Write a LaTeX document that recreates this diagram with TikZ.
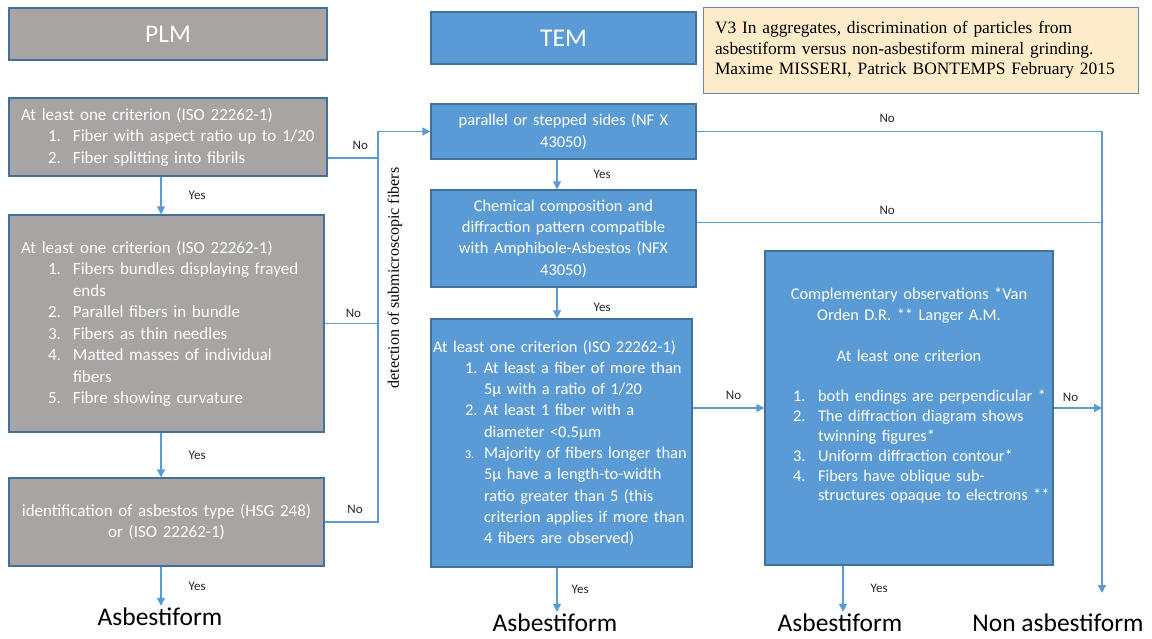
\documentclass[tikz,border=0pt]{standalone}
\usepackage{fontspec}
\setmainfont{Carlito}
\newfontfamily\notefont{Liberation Serif}
\usetikzlibrary{calc,arrows.meta}

\definecolor{plmgray}{RGB}{168,164,163}
\definecolor{temblue}{RGB}{91,155,213}
\definecolor{boxedge}{RGB}{65,113,156}
\definecolor{linkblue}{RGB}{91,155,213}
\definecolor{notefill}{RGB}{253,236,201}
\definecolor{noteedge}{RGB}{105,135,170}

\newlength\itemind
\newlength\labelgap
\newcommand{\crititem}[2]{\hspace*{\itemind}\makebox[\labelgap][l]{#1}\mbox{#2}}
\newcommand{\critcont}[1]{\hspace*{\dimexpr\itemind+\labelgap\relax}\mbox{#1}}

\begin{document}
\begin{tikzpicture}[x=1pt,y=-1pt,
    box/.style={draw=boxedge, line width=1.2pt, text=white, inner ysep=0pt},
    plmbox/.style={box, fill=plmgray, font=\fontsize{17}{21.5}\selectfont},
    tembox/.style={box, fill=temblue, font=\fontsize{16.4}{21.3}\selectfont},
    title/.style={font=\fontsize{25.5}{30}\selectfont},
    link/.style={draw=linkblue, line width=1.3pt},
    arr/.style={link, -{Triangle[length=8pt,width=8pt]}},
    lbl/.style={font=\fontsize{13}{15}\selectfont, text=black!85, inner sep=2pt},
    result/.style={font=\fontsize{25.5}{30}\selectfont, inner sep=2pt}]
  \useasboundingbox (0,0) rectangle (1152,638);

  \node[plmbox, title, minimum width=318pt, minimum height=52pt] (plm) at (168,34) {PLM};
  \node[tembox, title, minimum width=265pt, minimum height=52pt] (tem) at (563.5,38) {TEM};
  \node[draw=noteedge, line width=1pt, fill=notefill, text width=411pt, inner xsep=12pt,
        minimum height=86pt, align=left, font=\notefont\fontsize{17.4}{20.5}\selectfont]
    (note) at (920.5,50) {V3 In aggregates, discrimination of particles from\\
      asbestiform versus non-asbestiform mineral grinding.\\
      Maxime MISSERI, Patrick BONTEMPS February 2015};

  \begin{scope}[every node/.append style={execute at begin node={\setlength\itemind{27pt}\setlength\labelgap{25pt}}}]
    \node[plmbox, text width=294pt, inner xsep=12pt, minimum height=78pt, align=left]
      (crit1) at (168,137) {At least one criterion (ISO 22262-1)\\
        \crititem{1.}{Fiber with aspect ratio up to 1/20}\\
        \crititem{2.}{Fiber splitting into fibrils}};
    \node[plmbox, text width=291pt, inner xsep=12pt, minimum height=217pt, align=left]
      (crit2) at (166.5,323.5) {At least one criterion (ISO 22262-1)\\
        \crititem{1.}{Fibers bundles displaying frayed}\\
        \critcont{ends}\\
        \crititem{2.}{Parallel fibers in bundle}\\
        \crititem{3.}{Fibers as thin needles}\\
        \crititem{4.}{Matted masses of individual}\\
        \critcont{fibers}\\
        \crititem{5.}{Fibre showing curvature}};
  \end{scope}
  \node[plmbox, text width=299pt, inner xsep=8pt, minimum height=88pt, align=center]
    (ident) at (166.5,522) {identification of asbestos type (HSG 248)\\or (ISO 22262-1)};

  \node[tembox, text width=249pt, inner xsep=8pt, minimum height=55pt, align=center]
    (sides) at (563.5,131.5) {parallel or stepped sides (NF X\\43050)};
  \node[tembox, text width=249pt, inner xsep=8pt, minimum height=97pt, align=center]
    (chem) at (563.5,238.5) {Chemical composition and\\diffraction pattern compatible\\
      with Amphibole-Asbestos (NFX\\43050)};
  \node[tembox, text width=257pt, inner xsep=2pt, minimum height=248pt, align=left,
        execute at begin node={\setlength\itemind{32pt}\setlength\labelgap{19pt}}]
    (crit3) at (561.5,443) {\mbox{At least one criterion (ISO 22262-1)}\\
      \crititem{1.}{At least a fiber of more than}\\
      \critcont{5µ with a ratio of 1/20}\\
      \crititem{2.}{At least 1 fiber with a}\\
      \critcont{diameter <0.5µm}\\
      \crititem{\fontsize{12}{14}\selectfont 3.}{Majority of fibers longer than}\\
      \critcont{5µ have a length-to-width}\\
      \critcont{ratio greater than 5 (this}\\
      \critcont{criterion applies if more than}\\
      \critcont{4 fibers are observed)}};
  \node[tembox, text width=264pt, inner xsep=12pt, minimum height=314pt, align=center]
    (compl) at (909,408) {Complementary observations *Van\\Orden D.R. ** Langer A.M.\\[20pt]
      At least one criterion\\[19pt]
      \begin{minipage}[t]{244pt}\raggedright\fontsize{16.4}{19.8}\selectfont
        \setlength\itemind{6pt}\setlength\labelgap{25pt}%
        \crititem{1.}{both endings are perpendicular *}\\
        \crititem{2.}{The diffraction diagram shows}\\
        \critcont{twinning figures*}\\
        \crititem{3.}{Uniform diffraction contour*}\\
        \crititem{4.}{Fibers have oblique sub-}\\
        \critcont{structures opaque to electrons **}
      \end{minipage}\\[24pt]\mbox{}};

  \node[rotate=90, font=\notefont\fontsize{16}{18}\selectfont] (submicro) at (395,278)
    {detection of submicroscopic fibers};

  \node[result] (asb1) at (160,617) {Asbestiform};
  \node[result] (asb2) at (555,623) {Asbestiform};
  \node[result] (asb3) at (840,623) {Asbestiform};
  \node[result] (nonasb) at (1058,623) {Non asbestiform};

  \coordinate (plmx) at (161,0);
  \coordinate (temx) at (557,0);
  \coordinate (complx) at (843,0);
  \coordinate (busx) at (378,0);
  \coordinate (nox) at (1102,0);
  \coordinate (noend) at (1102,593);
  \coordinate (crit1no) at ([yshift=-21pt]crit1.east);
  \coordinate (chemno) at ([yshift=16pt]chem.east);

  \draw[arr] (crit1.south -| plmx) -- node[lbl, right=25pt] {Yes} (crit2.north -| plmx);
  \draw[arr] (crit2.south -| plmx) -- node[lbl, right=25pt] {Yes} (ident.north -| plmx);
  \draw[arr] (ident.south -| plmx) -- node[lbl, right=25pt] {Yes} (asb1.north -| plmx);

  \draw[link] (crit1no) -- node[lbl, above=6pt, pos=0.65] {No} (crit1no -| busx);
  \draw[link] (crit2.east) -- node[lbl, above=3pt, pos=0.54] {No} (crit2.east -| busx);
  \draw[arr] (ident.east) -- node[lbl, above=6pt, pos=0.57] {No} (ident.east -| busx)
    -- (busx |- sides.west) -- (sides.west);

  \draw[arr] (sides.south -| temx) -- node[lbl, right=34pt] {Yes} (chem.north -| temx);
  \draw[arr] (chem.south -| temx) -- node[lbl, right=34pt, pos=0.65] {Yes} (crit3.north -| temx);
  \draw[arr] (crit3.south -| temx) -- node[lbl, right=12pt] {Yes} (asb2.north -| temx);

  \draw[arr] (sides.east) -- node[lbl, above=6pt, pos=0.47] {No} (sides.east -| nox) -- (noend);
  \draw[link] (chemno) -- node[lbl, above=5pt, pos=0.47] {No} (chemno -| nox);
  \draw[arr] (crit3.east |- compl.west) -- node[lbl, above=6pt, pos=0.57] {No} (compl.west);
  \draw[arr] (compl.east) -- node[lbl, above=4pt, pos=0.35] {No} (compl.east -| nox);
  \draw[arr] (compl.south -| complx) -- node[lbl, right=25pt] {Yes} (asb3.north -| complx);
\end{tikzpicture}
\end{document}
